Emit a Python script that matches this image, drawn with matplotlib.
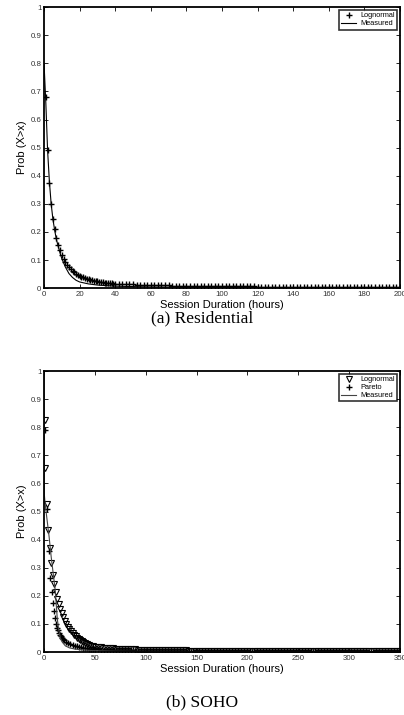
import matplotlib
matplotlib.use("Agg")
import matplotlib.pyplot as plt

# ---- (a) Residential ----
res_meas_hours = [0, 1, 2, 3, 4, 5, 6, 7, 8, 9, 10, 12, 14, 16, 18, 20, 25, 30, 40, 60, 100, 150, 200]
res_meas_prob = [0.80, 0.66, 0.49, 0.38, 0.30, 0.245, 0.205, 0.172, 0.148, 0.125, 0.105, 0.075, 0.052,
                 0.038, 0.028, 0.022, 0.015, 0.011, 0.007, 0.004, 0.002, 0.001, 0.0005]

res_logn_hours = list(range(1, 41)) + list(range(42, 201, 2))
res_logn_prob = [0.68, 0.49, 0.375, 0.30, 0.245, 0.21, 0.178, 0.155, 0.135, 0.118,
                 0.104, 0.093, 0.083, 0.075, 0.068, 0.062, 0.057, 0.052, 0.048, 0.044,
                 0.041, 0.038, 0.036, 0.034, 0.032, 0.030, 0.028, 0.027, 0.025, 0.024,
                 0.023, 0.022, 0.021, 0.020, 0.019, 0.018, 0.0175, 0.017, 0.016, 0.0155,
                 0.015, 0.0145, 0.014, 0.0135, 0.013, 0.0125, 0.012, 0.0117, 0.0113, 0.011,
                 0.0107, 0.0104, 0.0101, 0.0098, 0.0095, 0.0093, 0.0091, 0.0089, 0.0087, 0.0085,
                 0.0083, 0.0081, 0.0079, 0.0077, 0.0076, 0.0074, 0.0073, 0.0071, 0.007, 0.0069,
                 0.0067, 0.0066, 0.0065, 0.0064, 0.0063, 0.0062, 0.0061, 0.006, 0.0059, 0.0058,
                 0.0057, 0.0056, 0.0055, 0.0055, 0.0054, 0.0053, 0.0052, 0.0052, 0.0051, 0.005,
                 0.005, 0.0049, 0.0048, 0.0048, 0.0047, 0.0047, 0.0046, 0.0045, 0.0045, 0.0044,
                 0.0044, 0.0043, 0.0043, 0.0042, 0.0042, 0.0041, 0.0041, 0.004, 0.004, 0.004,
                 0.0039, 0.0039, 0.0038, 0.0038, 0.0038, 0.0037, 0.0037, 0.0036, 0.0036, 0.0036]

# ---- (b) SOHO ----
soho_meas_hours = [0, 0.3, 1, 3, 5, 7, 9, 11, 12, 13, 14, 16, 18, 21, 25, 30, 40, 50, 70, 100, 150, 200, 350]
soho_meas_prob = [1.0, 0.56, 0.53, 0.47, 0.41, 0.34, 0.28, 0.22, 0.17, 0.12, 0.09, 0.05, 0.035, 0.022,
                  0.015, 0.011, 0.007, 0.005, 0.003, 0.002, 0.001, 0.0007, 0.0004]

soho_tail_hours = list(range(53, 351, 3))

soho_logn_hours = [0.5, 1, 2.5, 4, 5.5, 7, 8.5, 10, 11.5, 13, 14.5, 16, 17.5, 19, 20.5, 22, 23.5, 25,
                   26.5, 28, 29.5, 31, 32.5, 34, 35.5, 37, 38.5, 40, 42, 44, 46, 48, 50] + soho_tail_hours
soho_logn_prob = [0.825, 0.655, 0.527, 0.434, 0.37, 0.317, 0.274, 0.242, 0.214, 0.19, 0.17, 0.153,
                  0.138, 0.125, 0.112, 0.100, 0.090, 0.082, 0.075, 0.068, 0.062, 0.056, 0.051, 0.047,
                  0.043, 0.039, 0.036, 0.033, 0.029, 0.026, 0.023, 0.021, 0.019,
                  0.018, 0.0168, 0.0157, 0.0147, 0.0138, 0.013, 0.0123, 0.0117, 0.0111, 0.0106,
                  0.0101, 0.0097, 0.0093, 0.0089, 0.0086, 0.0083, 0.008, 0.0077, 0.0075, 0.0073,
                  0.0071, 0.0069, 0.0067, 0.0065, 0.0064, 0.0062, 0.0061, 0.006, 0.0058, 0.0057,
                  0.0056, 0.0055, 0.0054, 0.0053, 0.0052, 0.0051, 0.0051, 0.005, 0.0049, 0.0048,
                  0.0048, 0.0047, 0.0046, 0.0046, 0.0045, 0.0045, 0.0044, 0.0043, 0.0043, 0.0042,
                  0.0042, 0.0041, 0.0041, 0.0041, 0.004, 0.004, 0.0039, 0.0039, 0.0038, 0.0038,
                  0.0038, 0.0037, 0.0037, 0.0037, 0.0036, 0.0036, 0.0036, 0.0035, 0.0035, 0.0035,
                  0.0034, 0.0034, 0.0034, 0.0033, 0.0033, 0.0033, 0.0033, 0.0032, 0.0032, 0.0032,
                  0.0032, 0.0031, 0.0031, 0.0031, 0.0031, 0.003, 0.003, 0.003, 0.003, 0.003,
                  0.0029, 0.0029, 0.0029, 0.0029, 0.0029, 0.0028, 0.0028, 0.0028, 0.0028, 0.0028]

soho_par_hours = [1, 3, 5, 6, 8, 9, 10, 11, 12, 13, 14, 15, 16, 17, 18, 19, 20, 22, 24, 26, 28, 30,
                  32, 34, 36, 38, 40, 42, 44, 46, 48, 50] + soho_tail_hours
soho_par_prob = [0.79, 0.51, 0.36, 0.265, 0.215, 0.175, 0.145, 0.12, 0.10, 0.087, 0.077, 0.069,
                 0.062, 0.056, 0.051, 0.047, 0.043, 0.037, 0.032, 0.028, 0.025, 0.022, 0.020, 0.018,
                 0.0165, 0.015, 0.0138, 0.0128, 0.0119, 0.0111, 0.0104, 0.0098,
                 0.0095, 0.009, 0.0085, 0.0081, 0.0077, 0.0073, 0.007, 0.0067, 0.0064, 0.0062,
                 0.006, 0.0058, 0.0056, 0.0054, 0.0052, 0.0051, 0.0049, 0.0048, 0.0047, 0.0046,
                 0.0045, 0.0044, 0.0043, 0.0042, 0.0041, 0.004, 0.0039, 0.0039, 0.0038, 0.0037,
                 0.0037, 0.0036, 0.0035, 0.0035, 0.0034, 0.0034, 0.0033, 0.0033, 0.0032, 0.0032,
                 0.0031, 0.0031, 0.0031, 0.003, 0.003, 0.0029, 0.0029, 0.0029, 0.0028, 0.0028,
                 0.0028, 0.0027, 0.0027, 0.0027, 0.0026, 0.0026, 0.0026, 0.0026, 0.0025, 0.0025,
                 0.0025, 0.0025, 0.0024, 0.0024, 0.0024, 0.0024, 0.0023, 0.0023, 0.0023, 0.0023,
                 0.0023, 0.0022, 0.0022, 0.0022, 0.0022, 0.0022, 0.0021, 0.0021, 0.0021, 0.0021,
                 0.0021, 0.0021, 0.002, 0.002, 0.002, 0.002, 0.002, 0.002, 0.0019, 0.0019,
                 0.0019, 0.0019, 0.0019, 0.0019, 0.0019, 0.0018, 0.0018, 0.0018, 0.0018, 0.0018]

y_ticks = [0, 0.1, 0.2, 0.3, 0.4, 0.5, 0.6, 0.7, 0.8, 0.9, 1]
y_labels = ["0", "0.1", "0.2", "0.3", "0.4", "0.5", "0.6", "0.7", "0.8", "0.9", "1"]
res_x_ticks = [0, 20, 40, 60, 80, 100, 120, 140, 160, 180, 200]
soho_x_ticks = [0, 50, 100, 150, 200, 250, 300, 350]

plt.rcParams["font.family"] = "Liberation Sans"

fig = plt.figure(figsize=(4.04, 7.15), dpi=100)
ax1 = fig.add_axes([0.109, 0.597, 0.881, 0.393])
ax2 = fig.add_axes([0.109, 0.088, 0.881, 0.393])


def style_axes(ax, xmax, xticks):
    ax.set_xlim(0, xmax)
    ax.set_ylim(0, 1)
    ax.set_xticks(xticks)
    ax.set_xticklabels([str(t) for t in xticks])
    ax.set_yticks(y_ticks)
    ax.set_yticklabels(y_labels)
    ax.tick_params(direction="in", length=3, width=0.6, labelsize=5.7, pad=2,
                   top=True, right=True, colors="black", labelcolor="#333333")
    for sp in ax.spines.values():
        sp.set_linewidth(1.3)
    ax.set_xlabel("Session Duration (hours)", fontsize=8, labelpad=1.5)
    ax.set_ylabel("Prob (X>x)", fontsize=8, labelpad=2)


ax1.plot(res_logn_hours, res_logn_prob, linestyle="none", marker="+", markersize=5,
         markeredgewidth=1.0, color="black", label="Lognormal")
ax1.plot(res_meas_hours, res_meas_prob, color="black", linewidth=0.8, label="Measured")
style_axes(ax1, 200, res_x_ticks)
leg1 = ax1.legend(loc="upper right", fontsize=5.3, frameon=True, fancybox=False, edgecolor="black",
                  handlelength=2, borderpad=0.3, labelspacing=0.1, handletextpad=0.6,
                  borderaxespad=0.4)
leg1.get_frame().set_linewidth(1.2)

ax2.plot(soho_logn_hours, soho_logn_prob, linestyle="none", marker="v", markersize=4.2,
         markeredgewidth=0.8, markerfacecolor="none", color="black", label="Lognormal")
ax2.plot(soho_par_hours, soho_par_prob, linestyle="none", marker="+", markersize=5,
         markeredgewidth=1.0, color="black", label="Pareto")
ax2.plot(soho_meas_hours, soho_meas_prob, color="#444444", linewidth=0.8, label="Measured")
style_axes(ax2, 350, soho_x_ticks)
leg2 = ax2.legend(loc="upper right", fontsize=5.3, frameon=True, fancybox=False, edgecolor="black",
                  handlelength=2, borderpad=0.3, labelspacing=0.1, handletextpad=0.6,
                  borderaxespad=0.4)
leg2.get_frame().set_linewidth(1.2)

fig.text(0.5, 1 - 322 / 715, "(a) Residential", ha="center", va="baseline",
         fontsize=12.5, family="Liberation Serif")
fig.text(0.5, 1 - 706 / 715, "(b) SOHO", ha="center", va="baseline",
         fontsize=12.5, family="Liberation Serif")

fig.savefig("out.png", dpi=100)
